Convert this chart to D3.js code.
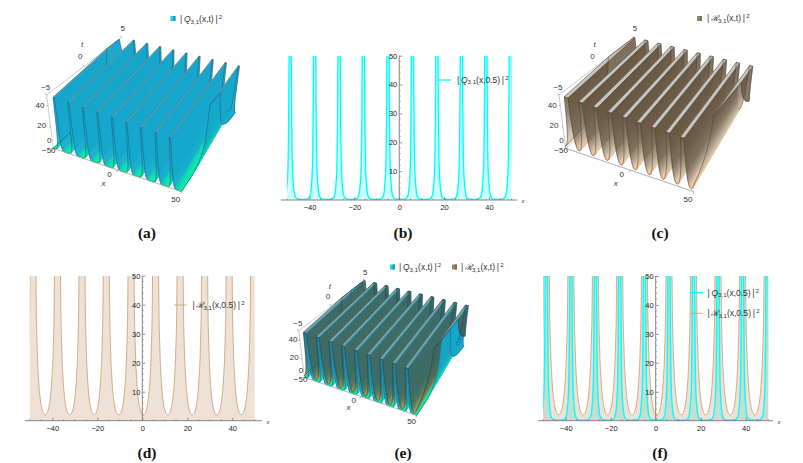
<!DOCTYPE html>
<html>
<head>
<meta charset="utf-8">
<script src="https://cdn.jsdelivr.net/npm/d3@7"></script>
<style>
  html, body { margin: 0; padding: 0; background: #fff; }
  text { font-family: "Liberation Sans", Arial, sans-serif; fill: #333; }
</style>
</head>
<body>
<div id="chart"></div>
<script>
// peak positions of the curves at t = 0.5 (b) and (d)
const peakX = [-48.6, -37.7, -26.8, -16, -5, 5.9, 16.8, 27.7, 38.6, 49.5];
// ridge positions of the surfaces at t = -5 and t = 5
const ridgeFront = [-55.6, -44.7, -33.8, -22.9, -12, -1.1, 9.8, 20.7, 31.6, 42.5, 53.4];
const ridgeBack = [-61.6, -50.7, -39.8, -28.9, -18, -7.1, 3.8, 14.7, 25.6, 36.5, 47.4];

// distance from a peak and curve height, one flank of each curve
const qDist = [0.5, 0.6, 0.7, 0.85, 1, 1.2, 1.4, 1.65, 1.9, 2.2, 2.5, 2.85, 3.2, 3.7, 4.2, 4.8, 5.45];
const qHeight = [50, 36, 26, 16, 11, 7.6, 5.5, 3.4, 2, 1.3, 0.8, 0.55, 0.4, 0.3, 0.25, 0.22, 0.2];
const rDist = [1.35, 1.5, 1.7, 1.9, 2.1, 2.3, 2.6, 2.9, 3.2, 3.5, 3.75, 4, 4.25, 4.5, 4.75, 5, 5.2, 5.45];
const rHeight = [50, 38, 30, 25, 20, 17, 13, 10, 7.8, 6, 4.9, 4, 3.3, 2.8, 2.45, 2.2, 2.05, 2];

const xTicks2d = [-40, -20, 0, 20, 40];
const xMinor2d = [-50, -45, -35, -30, -25, -15, -10, -5, 5, 10, 15, 25, 30, 35, 45, 50];
const yTicks2d = [10, 20, 30, 40, 50];
const yMinor2d = [2, 4, 6, 8, 12, 14, 16, 18, 22, 24, 26, 28, 32, 34, 36, 38, 42, 44, 46, 48];
const xTicks3d = [-50, 0, 50];
const tTicks3d = [-5, 0, 5];
const zTicks3d = [0, 20, 40];

const width = 803, height = 463;
const svg = d3.select('#chart').append('svg').attr('width', width).attr('height', height)
  .style('display', 'block');

// the rising flank catches the light, the falling flank stays dark
const qRise = d3.scaleLinear().domain([0.2, 0.6, 3, 7, 14, 50])
  .range(['#0eeaa6', '#0eeaa6', '#14dcb4', '#1ac0c4', '#18aacc', '#16a6cc']);
const qFall = d3.scaleLinear().domain([0.2, 0.4, 1, 3, 50])
  .range(['#14dcb0', '#16ccbc', '#18b8c8', '#16a8ce', '#16a6cc']);
const rRise = d3.scaleLinear().domain([2, 3, 5, 9, 15, 30, 50])
  .range(['#f2c08e', '#f2c08e', '#e6c8a8', '#cfc0aa', '#b8ac9a', '#8a7a66', '#6a5a48']);
const rFall = d3.scaleLinear().domain([2, 3, 5, 9, 15, 50])
  .range(['#f0bf92', '#e8c09a', '#c4ab90', '#968470', '#6e5d4a', '#665540']);
const overRise = d3.scaleLinear().domain([2, 3, 5, 9, 15, 30, 50])
  .range(['#a8a860', '#a8a860', '#8e9a5c', '#6f7f58', '#556e58', '#44665c', '#44665c']);
const overFall = d3.scaleLinear().domain([2, 3, 5, 9, 15, 50])
  .range(['#98a05e', '#88945c', '#6a7e5a', '#527058', '#46665a', '#44665c']);

const xUnit = d3.scaleLinear().domain([-50, 50]).range([0, 1]);
const tUnit = d3.scaleLinear().domain([-5, 5]).range([0, 1]);
const zUnit = d3.scaleLinear().domain([0, 50]).range([0, 1]);

function clipSide(poly, inside, edgeX) {
  const out = [];
  poly.forEach((a, i) => {
    const b = poly[(i + 1) % poly.length];
    if (inside(a)) out.push(a);
    if (inside(a) !== inside(b)) {
      const f = (edgeX - a.x) / (b.x - a.x);
      out.push({ x: edgeX, t: a.t + f * (b.t - a.t), z: a.z + f * (b.z - a.z) });
    }
  });
  return out;
}

function onBorder(a, b) {
  return (a.x === 50 && b.x === 50) || (a.x === -50 && b.x === -50) ||
    (a.t === -5 && b.t === -5) || (a.t === 5 && b.t === 5);
}

// surfaces are strips along t, painted ridge by ridge from small x to large x
function drawSurfaces(g, project, surfaces) {
  const pathOf = pts => d3.line().x(p => project(p)[0]).y(p => project(p)[1])(pts);

  function strip(target, ridge, d0, z0, d1, z1, fill, stroke, borders) {
    const xf = ridgeFront[ridge], xb = ridgeBack[ridge];
    let poly = [
      { x: xf + d0, t: -5, z: z0 }, { x: xb + d0, t: 5, z: z0 },
      { x: xb + d1, t: 5, z: z1 }, { x: xf + d1, t: -5, z: z1 }
    ];
    poly = clipSide(poly, p => p.x >= -50, -50);
    if (poly.length) poly = clipSide(poly, p => p.x <= 50, 50);
    if (poly.length < 3) return;
    target.append('path').attr('d', pathOf(poly) + 'Z').attr('fill', fill)
      .attr('stroke', stroke || fill).attr('stroke-width', stroke ? 0.4 : 0.35);
    poly.forEach((a, i) => {
      const b = poly[(i + 1) % poly.length];
      if (onBorder(a, b)) borders.push([a, b]);
    });
  }

  // a strip between two read points of the profile, cut finer only for the shading
  function shaded(target, ridge, s, k, sign, borders) {
    const { dist, heights, style } = s;
    const cuts = 4;
    for (let c = 0; c < cuts; c++) {
      const i = sign > 0 ? c : cuts - 1 - c;
      const f0 = i / cuts, f1 = (i + 1) / cuts;
      const d0 = dist[k] + (dist[k + 1] - dist[k]) * f0, d1 = dist[k] + (dist[k + 1] - dist[k]) * f1;
      const z0 = heights[k] + (heights[k + 1] - heights[k]) * f0, z1 = heights[k] + (heights[k + 1] - heights[k]) * f1;
      const zm = (z0 + z1) / 2;
      if (sign > 0) strip(target, ridge, d0, z0, d1, z1, style.fall(zm), null, borders);
      else strip(target, ridge, -d1, z1, -d0, z0, style.rise(zm), null, borders);
    }
  }

  function leftPart(ridge, s, low, borders) {
    const part = g.append('g').attr('opacity', s.style.opacity);
    for (let k = s.dist.length - 2; k >= 0; k--) {
      if ((s.dist[k] >= s.split) === low) shaded(part, ridge, s, k, -1, borders);
    }
  }

  ridgeFront.forEach((_, r) => {
    const borders = surfaces.map(() => []);
    surfaces.forEach((s, i) => leftPart(r, s, true, borders[i]));
    surfaces.slice().reverse().forEach(s => leftPart(r, s, false, borders[surfaces.indexOf(s)]));
    surfaces.forEach((s, i) => {
      strip(g, r, -s.dist[0], 50, s.dist[0], 50, s.style.cap, s.style.capEdge, borders[i]);
    });
    surfaces.forEach((s, i) => {
      const part = g.append('g').attr('opacity', s.style.opacity);
      for (let k = 0; k < s.dist.length - 1; k++) shaded(part, r, s, k, 1, borders[i]);
    });
    surfaces.forEach((s, i) => {
      borders[i].forEach(b => {
        g.append('path').attr('d', pathOf(b)).attr('fill', 'none')
          .attr('stroke', s.style.edge).attr('stroke-width', 0.55);
      });
    });
  });
}

function legendText(sel, x, y, letter, args, size) {
  const t = sel.append('text').attr('x', x).attr('y', y).attr('font-size', size);
  t.append('tspan').text('|\u2009');
  t.append('tspan').attr('font-style', 'italic').text(letter);
  t.append('tspan').attr('font-size', size * 0.72).attr('dy', 1.5).text('3,1');
  t.append('tspan').attr('dy', -1.5).text(args + '\u2009|');
  t.append('tspan').attr('font-size', size * 0.72).attr('dy', -3).text('\u20092');
}

function draw3d(ox, oy, s, surfaces) {
  const g = svg.append('g');
  const at = (x, y) => [ox + s * (x - 55), oy + s * (y - 99)];
  const topFL = at(46.7, 95), topFR = at(180, 141), topBL = at(121.7, 37.3), topBR = at(242, 66.7);
  const lowFL = at(53.3, 148.3), lowFR = at(181.7, 191.7), lowBL = at(126, 82), lowBR = at(235, 113.3);
  const lerp = (a, b, f) => [a[0] + (b[0] - a[0]) * f, a[1] + (b[1] - a[1]) * f];
  const plane = (fl, fr, bl, br, u, v) => lerp(lerp(fl, fr, u), lerp(bl, br, u), v);
  const project = p => {
    const u = xUnit(p.x), v = tUnit(p.t), w = zUnit(p.z);
    return lerp(plane(lowFL, lowFR, lowBL, lowBR, u, v), plane(topFL, topFR, topBL, topBR, u, v), w);
  };
  const seg = (a, b, col) => g.append('line').attr('x1', a[0]).attr('y1', a[1]).attr('x2', b[0]).attr('y2', b[1])
    .attr('stroke', col || '#b5b5b5').attr('stroke-width', 0.7);

  // box edges
  seg(topFL, topBL); seg(lowFL, topFL); seg(lowFL, lowFR); seg(lowFL, lowBL);

  drawSurfaces(g, project, surfaces);
  seg(lowFL, lowFR);

  const label = (pos, dx, dy, txt, italic) => g.append('text').attr('x', pos[0] + dx).attr('y', pos[1] + dy)
    .attr('text-anchor', 'middle').attr('font-size', 8).attr('font-style', italic ? 'italic' : null).text(txt);
  const fmt = d => d3.format('d')(d).replace('-', '\u2212');

  const xOff = [[-4.5, 5], [-8, 7], [-6, 10]];
  xTicks3d.forEach((v, i) => {
    const a = project({ x: v, t: -5, z: 0 });
    seg(a, [a[0] - 1, a[1] + 2], '#888');
    label(a, xOff[i][0] * s, xOff[i][1] * s, fmt(v));
  });
  label(project({ x: 0, t: -5, z: 0 }), -14 * s, 16 * s, 'x', true);

  const tOff = [[-1, -5], [-4, -7], [1, -6]];
  tTicks3d.forEach((v, i) => {
    const a = project({ x: -50, t: v, z: 50 });
    seg(a, [a[0] - 1.5, a[1] - 1.5], '#888');
    label(a, tOff[i][0] * s, tOff[i][1] * s, fmt(v));
  });
  label(project({ x: -50, t: 0, z: 50 }), -2 * s, -19 * s, 't', true);

  const zOff = [[-4, -5], [-9, 1], [-8, 2]];
  zTicks3d.forEach((v, i) => {
    const a = project({ x: -50, t: -5, z: v });
    seg(a, [a[0] - 1.5, a[1]], '#888');
    label(a, zOff[i][0] * s, zOff[i][1] * s, fmt(v));
  });
}

// points of one full curve, sorted in x, with the clipped top of each peak included
function curveArea(dist, heights) {
  const pts = [];
  peakX.forEach(p => {
    for (let k = dist.length - 1; k >= 0; k--) pts.push([p - dist[k], heights[k]]);
    for (let k = 0; k < dist.length; k++) pts.push([p + dist[k], heights[k]]);
  });
  return pts.sort((a, b) => a[0] - b[0]);
}

function curveValleys(dist, heights) {
  const out = [];
  for (let i = 0; i <= peakX.length; i++) {
    const seg = [];
    if (i > 0) dist.forEach((d, k) => seg.push([peakX[i - 1] + d, heights[k]]));
    if (i < peakX.length) {
      for (let k = dist.length - 1; k >= 0; k--) seg.push([peakX[i] - dist[k], heights[k]]);
    }
    out.push(seg.sort((a, b) => a[0] - b[0]));
  }
  return out;
}

let clipCount = 0;
function draw2d(o) {
  const g = svg.append('g');
  const x = d3.scaleLinear().domain([-40, 40]).range([o.xLeft, o.xRight]);
  const y = d3.scaleLinear().domain([0, 50]).range([o.base, o.top]);
  const id = 'clip' + (clipCount++);
  svg.append('clipPath').attr('id', id).append('rect')
    .attr('x', x(-50)).attr('y', y(50)).attr('width', x(50) - x(-50)).attr('height', y(0) - y(50));

  const plot = g.append('g').attr('clip-path', 'url(#' + id + ')');
  const area = d3.area().x(d => x(d[0])).y0(y(0)).y1(d => y(d[1])).curve(d3.curveMonotoneX);
  const line = d3.line().x(d => x(d[0])).y(d => y(d[1])).curve(d3.curveMonotoneX);

  o.series.forEach(s => {
    plot.append('path').attr('d', area(curveArea(s.dist, s.heights)))
      .attr('fill', s.fill).attr('fill-opacity', s.fillOpacity);
  });
  o.series.slice().reverse().forEach(s => {
    curveValleys(s.dist, s.heights).forEach(v => {
      plot.append('path').attr('d', line(v)).attr('fill', 'none')
        .attr('stroke', s.stroke).attr('stroke-width', s.width);
    });
  });

  const fmt = d => d3.format('d')(d).replace('-', '\u2212');
  const xAxis = d3.axisBottom(x).tickValues(xTicks2d).tickSize(-3).tickPadding(5).tickFormat(fmt);
  const yAxis = d3.axisLeft(y).tickValues(yTicks2d).tickSize(-3).tickPadding(2).tickFormat(fmt);
  const xg = g.append('g').attr('transform', 'translate(0,' + y(0) + ')').call(xAxis);
  const yg = g.append('g').attr('transform', 'translate(' + x(0) + ',0)').call(yAxis);
  xg.append('g').selectAll('line').data(xMinor2d).join('line')
    .attr('x1', d => x(d)).attr('x2', d => x(d)).attr('y1', 0).attr('y2', -1.5).attr('stroke', '#777').attr('stroke-width', 0.6);
  yg.append('g').selectAll('line').data(yMinor2d).join('line')
    .attr('y1', d => y(d)).attr('y2', d => y(d)).attr('x1', 0).attr('x2', 1.5).attr('stroke', '#777').attr('stroke-width', 0.6);

  [xg, yg].forEach(a => {
    a.select('.domain').remove();
    a.selectAll('.tick line').attr('stroke', '#666').attr('stroke-width', 0.7);
    a.selectAll('.tick text').attr('font-size', 7.5).attr('font-family', null).style('fill', '#222');
  });
  g.append('line').attr('x1', o.axisFrom).attr('x2', o.axisTo).attr('y1', y(0)).attr('y2', y(0))
    .attr('stroke', '#777').attr('stroke-width', 0.9);
  g.append('line').attr('x1', x(0)).attr('x2', x(0)).attr('y1', y(0)).attr('y2', y(50))
    .attr('stroke', '#777').attr('stroke-width', 0.9);
  g.append('text').attr('x', o.axisTo + 6).attr('y', y(0) + 3).attr('font-size', 6)
    .attr('font-style', 'italic').attr('text-anchor', 'middle').text('x');
}

const qStyle = { rise: qRise, fall: qFall, opacity: 1, cap: '#8ba3ac', capEdge: '#2b6a80', edge: '#1c6078' };
const rStyle = { rise: rRise, fall: rFall, opacity: 0.88, cap: '#c6c6c2', capEdge: '#5e5242', edge: '#4e4233' };
const rOverStyle = { rise: overRise, fall: overFall, opacity: 0.95, cap: '#8c9da2', capEdge: '#33504f', edge: '#2b4140' };

draw3d(55, 99, 1, [{ dist: qDist, heights: qHeight, split: 1.65, style: qStyle }]);
draw3d(567.3, 99, 1, [{ dist: rDist, heights: rHeight, split: 0, style: rStyle }]);
draw3d(306, 334.3, 0.875, [
  { dist: qDist, heights: qHeight, split: 1.2, style: qStyle },
  { dist: rDist, heights: rHeight, split: 0, style: rOverStyle }
]);

const qSeries = { dist: qDist, heights: qHeight, fill: '#ccffff', fillOpacity: 1, stroke: '#00ffff', width: 1.4 };
const rSeries = { dist: rDist, heights: rHeight, fill: '#eee2d6', fillOpacity: 1, stroke: '#c69c6d', width: 0.8 };

draw2d({ xLeft: 309.5, xRight: 489, base: 200, top: 55.7, axisFrom: 281, axisTo: 517, series: [qSeries] });
draw2d({ xLeft: 52.3, xRight: 232.3, base: 420.7, top: 275.7, axisFrom: 25, axisTo: 262, series: [rSeries] });
draw2d({ xLeft: 565.7, xRight: 745.7, base: 420.7, top: 276, axisFrom: 538, axisTo: 773,
  series: [rSeries, { ...qSeries, fill: '#9fd8c8', fillOpacity: 0.5 }] });

// legends
function swatch(x, y, col1, col2) {
  svg.append('rect').attr('x', x).attr('y', y).attr('width', 5).attr('height', 5).attr('fill', col1);
  svg.append('rect').attr('x', x + 2.5).attr('y', y).attr('width', 2.5).attr('height', 5).attr('fill', col2);
}
function keyLine(x1, x2, y, col, w) {
  svg.append('line').attr('x1', x1).attr('x2', x2).attr('y1', y).attr('y2', y).attr('stroke', col).attr('stroke-width', w);
}
swatch(170.5, 16, '#1ed6d6', '#129fc6');
legendText(svg, 180, 22, 'Q', '(x,t)', 8.5);
swatch(697, 16, '#9a8470', '#85705c');
legendText(svg, 707, 21, '\u211B', '(x,t)', 8.5);
swatch(390, 264.5, '#1ed6d6', '#129fc6');
legendText(svg, 399, 270, 'Q', '(x,t)', 8.5);
swatch(452, 264.5, '#9a8470', '#85705c');
legendText(svg, 461, 270, '\u211B', '(x,t)', 8.5);

keyLine(439, 451, 80, '#00ffff', 1.3);
legendText(svg, 457, 82.5, 'Q', '(x,0.5)', 8.5);
keyLine(174, 187, 305, '#c69c6d', 0.8);
legendText(svg, 192.5, 308, '\u211B', '(x,0.5)', 8.5);
keyLine(690, 703, 292.7, '#00ffff', 1.3);
legendText(svg, 707.5, 295.5, 'Q', '(x,0.5)', 8.5);
keyLine(690, 703, 313.3, '#c69c6d', 0.8);
legendText(svg, 707.5, 316, '\u211B', '(x,0.5)', 8.5);

// panel letters
const panelLetters = ['(a)', '(b)', '(c)', '(d)', '(e)', '(f)'];
const letterX = [147, 403, 660, 147, 403, 660];
const letterY = [238, 238, 238, 458, 458, 458];
svg.selectAll('.panel').data(panelLetters).join('text')
  .attr('class', 'panel')
  .attr('x', (d, i) => letterX[i]).attr('y', (d, i) => letterY[i])
  .attr('text-anchor', 'middle').style('font-family', '"Liberation Serif", serif')
  .style('font-weight', 'bold').style('fill', '#111').style('font-size', '15.5px').text(d => d);
</script>
</body>
</html>
